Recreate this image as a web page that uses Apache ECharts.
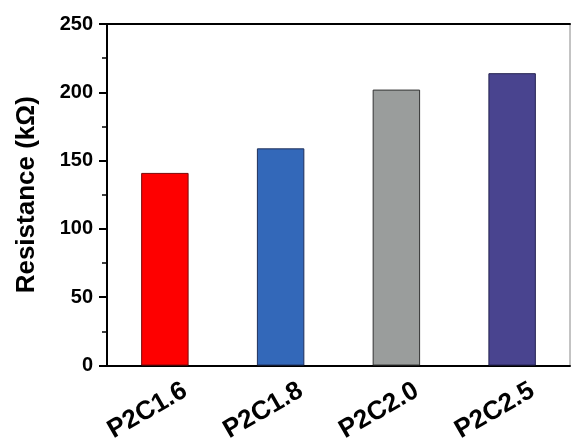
<!DOCTYPE html>
<html>
<head>
<meta charset="utf-8">
<script src="https://cdn.jsdelivr.net/npm/echarts@6/dist/echarts.min.js"></script>
<style>html,body{margin:0;padding:0;background:#fff;}#c{width:571px;height:445px;}</style>
</head>
<body>
<div id="c"></div>
<script>
var categories = ['P2C1.6', 'P2C1.8', 'P2C2.0', 'P2C2.5'];
var resistance = [141, 159, 202, 214];
var barColors = ['#FE0000', '#3368B9', '#9A9D9C', '#49448F'];
var barBorders = ['#7A0A0A', '#1F2F5A', '#333333', '#252352'];
var yTicks = [0, 50, 100, 150, 200, 250];

var chart = echarts.init(document.getElementById('c'), null, {renderer: 'canvas'});
var font = 'Arial, "Liberation Sans", Helvetica, sans-serif';
chart.setOption({
  animation: false,
  backgroundColor: '#fff',
  grid: {left: 107, right: 1, top: 24, bottom: 79, show: true, borderColor: '#888', borderWidth: 1},
  xAxis: [{
    type: 'category',
    data: categories,
    axisLine: {show: true, lineStyle: {color: '#000', width: 2}},
    axisTick: {show: false},
    axisLabel: {
      rotate: 30, align: 'center', verticalAlign: 'middle', margin: 35,
      padding: [0, 40, 0, 0],
      color: '#000', fontWeight: 'bold', fontSize: 26, fontFamily: font
    }
  }, {
    type: 'category',
    position: 'top',
    data: categories,
    axisLine: {show: true, lineStyle: {color: '#000', width: 2}},
    axisTick: {show: false},
    axisLabel: {show: false}
  }],
  yAxis: [{
    type: 'value',
    min: yTicks[0], max: yTicks[yTicks.length - 1], interval: 50,
    name: 'Resistance (kΩ)',
    nameLocation: 'middle',
    nameGap: 67,
    nameTextStyle: {color: '#000', fontWeight: 'bold', fontSize: 26, fontFamily: font},
    axisLine: {show: true, lineStyle: {color: '#000', width: 2}},
    axisTick: {show: true, inside: false, length: 8, lineStyle: {color: '#000', width: 2}},
    minorTick: {show: true, splitNumber: 2, length: 5, lineStyle: {color: '#000', width: 1.5}},
    splitLine: {show: false},
    axisLabel: {color: '#000', fontWeight: 'bold', fontSize: 20, fontFamily: font, margin: 14}
  }],
  series: [{
    type: 'bar',
    data: resistance.map(function (v, i) {
      return {value: v, itemStyle: {color: barColors[i], borderColor: barBorders[i], borderWidth: 1}};
    }),
    barWidth: '41%'
  }]
});
</script>
</body>
</html>
